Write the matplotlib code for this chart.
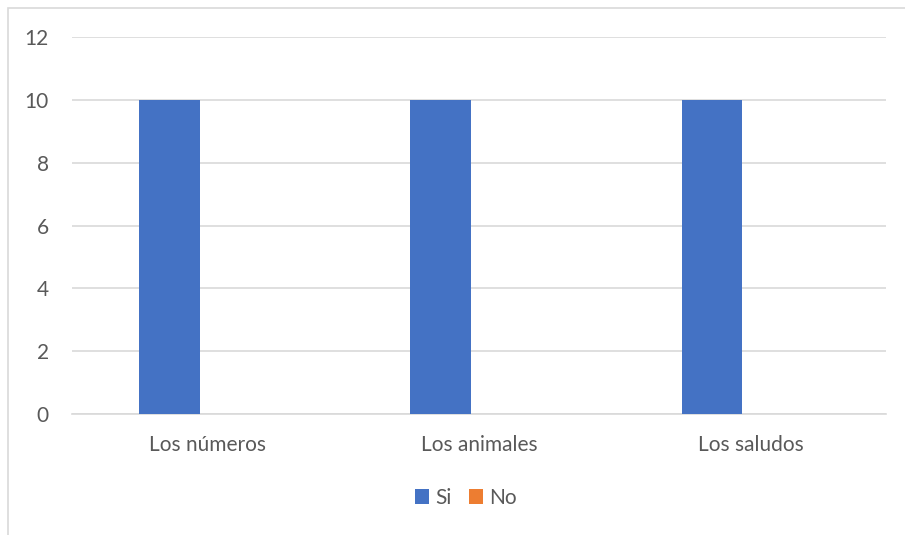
import matplotlib
matplotlib.use("Agg")
import matplotlib.pyplot as plt
from matplotlib.patches import Rectangle
import numpy as np

categories = ["Los números", "Los animales", "Los saludos"]
si_values = [10, 10, 10]
no_values = [0, 0, 0]
series_names = ["Si", "No"]
y_ticks = [0, 2, 4, 6, 8, 10, 12]

BLUE = "#4472C4"
ORANGE = "#ED7D31"
TEXT = "#595959"
GRID = "#D9D9D9"

plt.rcParams["font.family"] = ["Lato", "DejaVu Sans"]

W, H = 905, 535
fig = plt.figure(figsize=(W / 100, H / 100), dpi=100)

# chart border (cropped at right and bottom in the reference)
fig.add_artist(Rectangle((8 / W, -0.1), 1.2, 1.1 - 8 / H, transform=fig.transFigure,
                         fill=False, edgecolor=GRID, linewidth=1.2))

ax = fig.add_axes([72.3 / W, 1 - 414 / H, (886 - 72.3) / W, (414 - 37.2) / H])

x = np.arange(len(categories))
bar_w = 0.223
ax.bar(x - 0.142, si_values, width=bar_w, color=BLUE, label=series_names[0], zorder=3)
ax.bar(x + 0.081, no_values, width=bar_w, color=ORANGE, label=series_names[1], zorder=3)

ax.set_xlim(-0.5, len(categories) - 0.5)
ax.set_ylim(0, 12)
ax.set_yticks(y_ticks)
ax.set_xticks(x)
ax.set_xticklabels(categories)
ax.tick_params(axis="both", length=0, labelsize=15, colors=TEXT)
ax.tick_params(axis="y", pad=17)
ax.tick_params(axis="x", pad=15)
ax.grid(axis="y", color=GRID, linewidth=1.2, zorder=0)
for side in ["top", "right", "left"]:
    ax.spines[side].set_visible(False)
ax.spines["bottom"].set_color(GRID)
ax.spines["bottom"].set_linewidth(1.2)

leg = fig.legend(loc="center", bbox_to_anchor=(466 / W, 1 - 498 / H), ncol=2, frameon=False,
                 fontsize=15, handlelength=0.7, handleheight=0.7, handletextpad=0.3,
                 columnspacing=0.8)
for t in leg.get_texts():
    t.set_color(TEXT)

fig.savefig("out.png", dpi=100)
